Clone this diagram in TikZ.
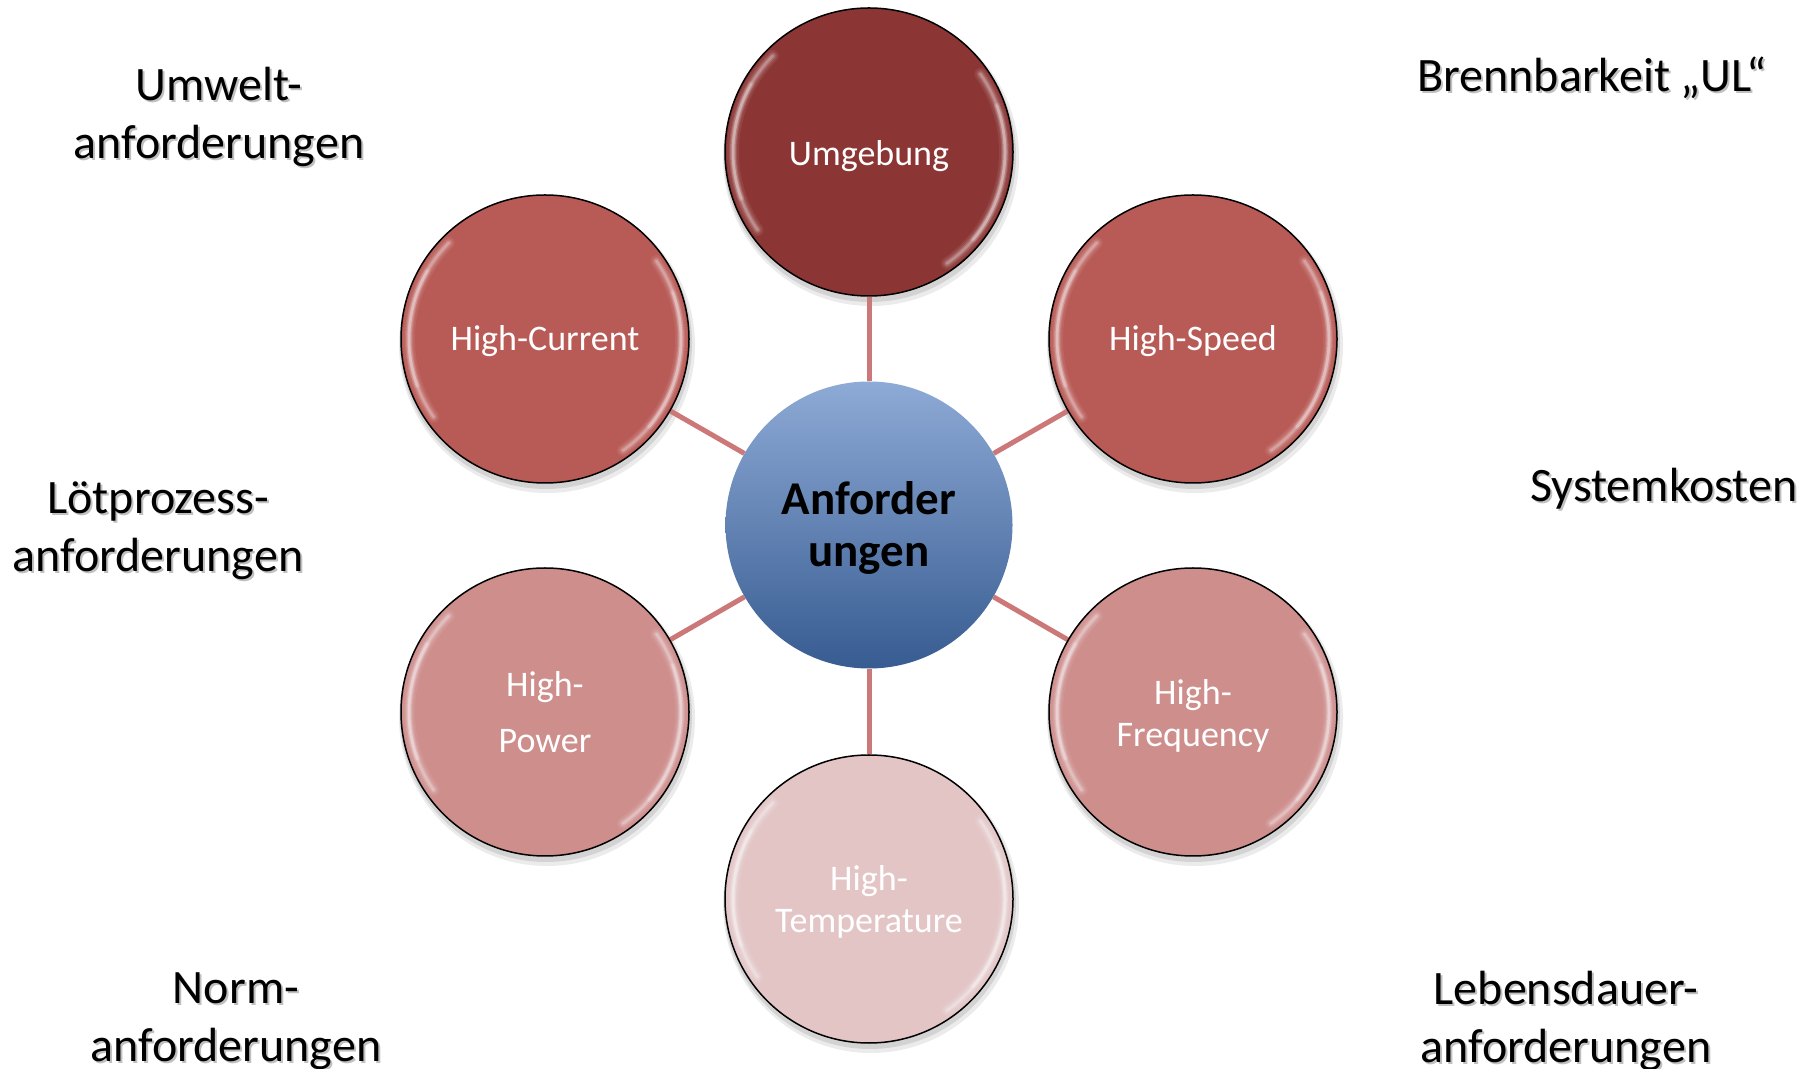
\documentclass[tikz,border=0pt]{standalone}
\usepackage{fontspec}
\setmainfont{Carlito}
\definecolor{cUmg}{RGB}{139,54,53}
\definecolor{cMid}{RGB}{184,90,86}
\definecolor{cLight}{RGB}{205,142,140}
\definecolor{cPale}{RGB}{227,197,198}
\definecolor{cLine}{RGB}{205,120,120}
\definecolor{cTop}{RGB}{142,170,214}
\definecolor{cBot}{RGB}{55,92,145}
\pgfdeclarelayer{background}
\pgfsetlayers{background,main}
\newcommand{\lowr}[2]{\raisebox{-#1pt}[\height][\depth]{#2}}
\newcommand{\glossat}[1]{%
  \foreach \w/\o in {12/0.07, 8/0.10, 5/0.14, 2.5/0.22} {
    \draw[white, line width=\w pt, opacity=\o, line cap=round] ([shift={(135:136)}]#1.center) arc[start angle=135, end angle=215, radius=136];
    \draw[white, line width=\w pt, opacity=\o, line cap=round] ([shift={(-55:136)}]#1.center) arc[start angle=-55, end angle=35, radius=136];
  }
  \foreach \w/\o in {6/0.12, 3/0.2} {
    \draw[white, line width=\w pt, opacity=\o, line cap=round] ([shift={(150:136)}]#1.center) arc[start angle=150, end angle=200, radius=136];
    \draw[white, line width=\w pt, opacity=\o, line cap=round] ([shift={(-40:136)}]#1.center) arc[start angle=-40, end angle=20, radius=136];
  }
}
\begin{document}
\begin{tikzpicture}[x=1pt,y=1pt,
  bub/.style={circle, draw=black, line width=1.5pt, minimum size=288pt, inner sep=0pt, text=white, align=center, font=\fontsize{36}{42}\selectfont},
  conn/.style={draw=cLine, line width=5pt},
  lbl/.style={align=center, font=\fontsize{48}{58}\selectfont, text=black},
  lblsh/.style={lbl, text=black!45, opacity=0.55},
]
\useasboundingbox (0,0) rectangle (1809,1068);

% center
\node[circle, minimum size=287pt, inner sep=0pt, top color=cTop, bottom color=cBot, draw=none, align=center, font=\bfseries\fontsize{47}{52}\selectfont] (c) at (869,543) {\lowr{2.5}{Anforder}\\\lowr{2.5}{ungen}};

% outer bubbles
\node[bub, fill=cUmg]   (n1) at (869,916) {\lowr{4}{Umgebung}};
\node[bub, fill=cMid]   (n2) at (1193,729) {\lowr{2.5}{High-Speed}};
\node[bub, fill=cLight] (n3) at (1193,356) {\lowr{3.5}{High-}\\\lowr{3.5}{Frequency}};
\node[bub, fill=cPale]  (n4) at (869,169) {\lowr{3}{High-}\\\lowr{3}{Temperature}};
\node[bub, fill=cLight] (n5) at (545,356) {High-\\[14pt]Power};
\node[bub, fill=cMid]   (n6) at (545,729) {\lowr{2.5}{High-Current}};

\foreach \n in {n1,n2,n3,n4,n5,n6} {\glossat{\n}}

\begin{pgfonlayer}{background}
  \foreach \n in {n1,n2,n3,n4,n5,n6} {
    \fill[black, opacity=0.08] ([shift={(2,-6)}]\n.center) circle (148);
    \fill[black, opacity=0.10] ([shift={(1,-4)}]\n.center) circle (146);
  }
  \foreach \n in {n1,n2,n3,n4,n5,n6} {\draw[conn] (c) -- (\n);}
\end{pgfonlayer}

% corner labels (shadow + text)
\node[lblsh] (l1s) at (221,949) {Umwelt-\\anforderungen};
\node[lbl]   (l1)  at (219,951) {Umwelt-\\anforderungen};
\node[lblsh] (l2s) at (1594,988) {Brennbarkeit „UL“};
\node[lbl]   (l2)  at (1592,990) {Brennbarkeit „UL“};
\node[lblsh] (l3s) at (160,535) {Lötprozess-\\anforderungen};
\node[lbl]   (l3)  at (158,537) {Lötprozess-\\anforderungen};
\node[lblsh] (l4s) at (1666,577) {Systemkosten};
\node[lbl]   (l4)  at (1664,579) {Systemkosten};
\node[lblsh] (l5s) at (238,45) {Norm-\\anforderungen};
\node[lbl]   (l5)  at (236,47) {Norm-\\anforderungen};
\node[lblsh] (l6s) at (1568,45) {Lebensdauer-\\anforderungen};
\node[lbl]   (l6)  at (1566,47) {Lebensdauer-\\anforderungen};
\end{tikzpicture}
\end{document}
